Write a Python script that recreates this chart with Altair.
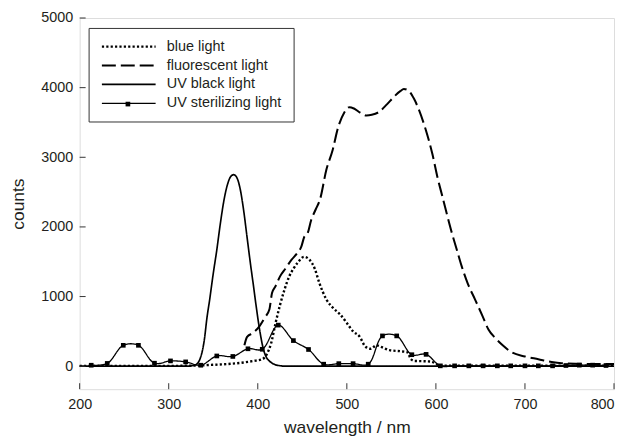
import altair as alt
import pandas as pd

series_names = ["blue light", "fluorescent light", "UV black light", "UV sterilizing light"]

blue_wl = [200, 250, 300, 330, 350, 370, 385, 395, 405, 410, 415, 420, 425, 430, 435, 440, 445, 452, 458, 464,
           469, 477, 485, 492, 500, 507, 514, 521, 527, 533, 540, 548, 560, 568, 572, 576, 586, 595, 602, 608,
           650, 700, 750, 800]
blue_val = [5, 5, 5, 8, 20, 35, 55, 75, 100, 170, 330, 620, 880, 1100, 1280, 1400, 1490, 1570, 1530, 1400,
            1200, 960, 830, 750, 620, 500, 430, 280, 250, 300, 270, 230, 215, 200, 100, 75, 72, 65, 20, 8,
            8, 8, 8, 8]

fl_wl = [385, 388, 395, 402, 408, 413, 416, 420, 425, 431, 438, 444, 449, 452, 456, 460, 465, 470, 477, 484,
         490, 497, 503, 508, 515, 522, 528, 536, 545, 553, 560, 564, 569, 575, 581, 588, 596, 602, 607, 613,
         618, 624, 629, 636, 644, 652, 659, 667, 675, 685, 700, 715, 730, 741, 760, 780, 800]
fl_val = [300, 420, 480, 576, 700, 814, 1050, 1150, 1290, 1400, 1530, 1620, 1720, 1850, 1910, 2100, 2250, 2400, 2820, 3100,
          3420, 3640, 3720, 3700, 3640, 3600, 3610, 3650, 3760, 3870, 3950, 3980, 3960, 3850, 3680, 3420, 3050, 2700, 2450, 2150,
          1910, 1650, 1433, 1180, 957, 730, 528, 400, 300, 200, 140, 100, 60, 43, 35, 30, 30]

bk_wl = [200, 250, 300, 320, 330, 335, 340, 343, 346, 350, 354, 358, 362, 366, 370, 373, 376, 380, 384, 388,
         392, 395, 398, 402, 406, 410, 413, 418, 426, 430, 500, 600, 700, 800]
bk_val = [0, 0, 0, 0, 20, 100, 380, 700, 957, 1330, 1670, 2050, 2380, 2610, 2730, 2750, 2720, 2560, 2250, 1850,
          1450, 1170, 880, 530, 260, 120, 76, 30, 5, 0, 0, 0, 0, 0]

st_wl = [213, 231, 249, 266, 284, 302, 319, 336, 354, 372, 389, 405, 423, 440, 457, 474, 491, 507, 524, 540,
         556, 573, 589, 605, 621, 637, 653, 669, 684, 700, 715, 731, 746, 761, 776, 791]
st_val = [14, 40, 300, 300, 43, 76, 62, 14, 147, 140, 250, 243, 590, 368, 240, 29, 37, 37, 29, 435,
          435, 165, 170, 5, 5, 5, 5, 5, 5, 5, 5, 5, 10, 15, 15, 10]

x_ticks = [200, 300, 400, 500, 600, 700, 800]
y_ticks = [0, 1000, 2000, 3000, 4000, 5000]

rows = []
for name, wls, vals in [(series_names[0], blue_wl, blue_val),
                        (series_names[1], fl_wl, fl_val),
                        (series_names[2], bk_wl, bk_val)]:
    for w, v in zip(wls, vals):
        rows.append({"series": name, "wavelength": w, "counts": v})
df_main = pd.DataFrame(rows)
df_st = pd.DataFrame({"series": series_names[3], "wavelength": st_wl, "counts": st_val})
df_xt = pd.DataFrame({"wavelength": x_ticks})
df_yt = pd.DataFrame({"counts": y_ticks})

FONT = "Liberation Sans"
TXT = "#231f20"
W, H = 537, 373

xscale = alt.Scale(domain=[200, 800], nice=False, zero=False)
yscale = alt.Scale(domain=[-330, 5000], nice=False, zero=False)

x_axis = alt.Axis(values=x_ticks, title="wavelength / nm", domain=False, grid=False,
                  ticks=False, labelPadding=8, labelFlush=False, format="d",
                  labelAlign={"condition": {"test": "datum.value === 800", "value": "right"}, "value": "center"},
                  labelFontSize=14.4, titleFontSize=17.5, titlePadding=8,
                  labelFont=FONT, titleFont=FONT, labelColor=TXT, titleColor=TXT,
                  titleFontWeight="normal")
y_axis = alt.Axis(values=y_ticks, title="counts", domain=False, grid=False,
                  ticks=False, labelPadding=7, labelFlush=False, format="d",
                  labelFontSize=14.4, titleFontSize=17.5, titlePadding=13,
                  labelFont=FONT, titleFont=FONT, labelColor=TXT, titleColor=TXT,
                  titleFontWeight="normal")
x_enc = alt.X("wavelength:Q", scale=xscale, axis=x_axis)
y_enc = alt.Y("counts:Q", scale=yscale, axis=y_axis)

legend = alt.Legend(
    title=None, orient="none", legendX=9, legendY=10, direction="vertical",
    strokeColor="#333", fillColor="white", padding=11.5,
    symbolType="M-5,0H5", symbolSize=116.6, symbolOffset=21.6, symbolStrokeColor="black",
    labelFont=FONT, labelFontSize=14.5, labelColor=TXT, labelOffset=31, rowPadding=4)

dash = alt.StrokeDash("series:N",
                      scale=alt.Scale(domain=series_names, range=[[2.2, 2.2], [14, 5], [1, 0], [1, 0]]),
                      legend=legend)
width_enc = alt.StrokeWidth("series:N",
                            scale=alt.Scale(domain=series_names, range=[2.4, 1.3, 1.2, 1.0]),
                            legend=legend)

marker_legend = alt.Legend(
    title=None, orient="none", legendX=46, legendY=84, padding=0,
    symbolSize=22, symbolFillColor="black", symbolStrokeColor="black", symbolStrokeWidth=0,
    labelExpr="''", labelOffset=0, labelFontSize=1)
shape_enc = alt.Shape("series:N",
                      scale=alt.Scale(domain=[series_names[3]], range=["square"]),
                      legend=marker_legend)

lines = alt.Chart(df_main).mark_line(color="black", interpolate="monotone").encode(
    x=x_enc, y=y_enc, strokeDash=dash, strokeWidth=width_enc, detail="series:N")
st_line = alt.Chart(df_st).mark_line(color="black", interpolate="catmull-rom").encode(
    x=x_enc, y=y_enc, strokeDash=dash, strokeWidth=width_enc)
st_pts = alt.Chart(df_st).mark_point(filled=True, size=22, color="black", opacity=1).encode(
    x=x_enc, y=y_enc, shape=shape_enc)
# inward tick marks along the bottom and left frame
x_tick_marks = alt.Chart(df_xt).mark_rule(color="#333", strokeWidth=1).encode(
    x=x_enc, y=alt.value(H), y2=alt.value(H - 6))
y_tick_marks = alt.Chart(df_yt).mark_rule(color="#333", strokeWidth=1).encode(
    y=y_enc, x=alt.value(0), x2=alt.value(6))

chart = alt.layer(lines, st_line, st_pts, x_tick_marks, y_tick_marks).properties(
    width=W, height=H,
    padding={"left": 1, "top": 1, "right": 0, "bottom": 0},
).configure_view(stroke="#333", strokeWidth=1).configure(background="white")

chart.save("out.html", embed_options={"renderer": "svg", "actions": False})
